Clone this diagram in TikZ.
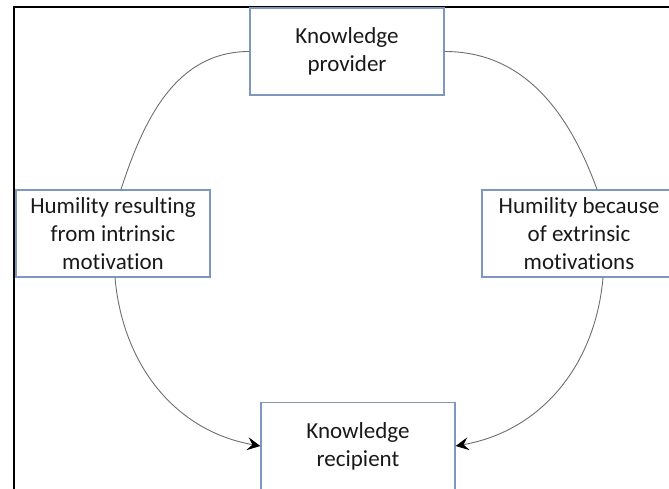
\documentclass[tikz,border=0pt]{standalone}
\usepackage{fontspec}
\setmainfont{Carlito}[Ligatures=NoCommon]
\usepackage{tikz}
\usetikzlibrary{arrows.meta}
\definecolor{boxblue}{RGB}{126,151,190}
\definecolor{linegray}{RGB}{110,110,110}
\begin{document}
\begin{tikzpicture}[x=1pt,y=-1pt]
         \tikzset{every node/.style={font=\fontsize{23}{28}\selectfont,text=black!90,align=center}}
         \tikzset{roundbox/.style={draw=boxblue,line width=1.3pt,minimum width=194pt,minimum height=87pt,inner sep=0pt}}
         \tikzset{curve/.style={draw=linegray,line width=0.9pt}}
         \tikzset{tip/.style={-{Stealth[length=13pt,width=13pt,inset=5pt,color=black]}}}
         \useasboundingbox (0,0) rectangle (669,489);
         \clip (0,0) rectangle (669,489);
         \draw[line width=2.2pt] (14,495) -- (14,7) -- (680,7);
         \node[roundbox] (provider) at (347,51.5) {Knowledge\\provider};
         \node[roundbox] (intrinsic) at (113,233.5) {Humility resulting\\from intrinsic\\motivation};
         \node[roundbox] (extrinsic) at (579,233.5) {Humility because\\of extrinsic\\motivations};
         \node[roundbox] (recipient) at (358,446) {Knowledge\\recipient};
         \draw[curve] (provider.west) to[out=180,in=72] ([xshift=8pt]intrinsic.north);
         \draw[curve] (provider.east) to[out=0,in=110] ([xshift=18pt]extrinsic.north);
         \draw[curve,tip] ([xshift=2pt]intrinsic.south) to[out=-85,in=170] (recipient.west);
         \draw[curve,tip] ([xshift=24pt]extrinsic.south) to[out=-95,in=10] (recipient.east);
\end{tikzpicture}
\end{document}
